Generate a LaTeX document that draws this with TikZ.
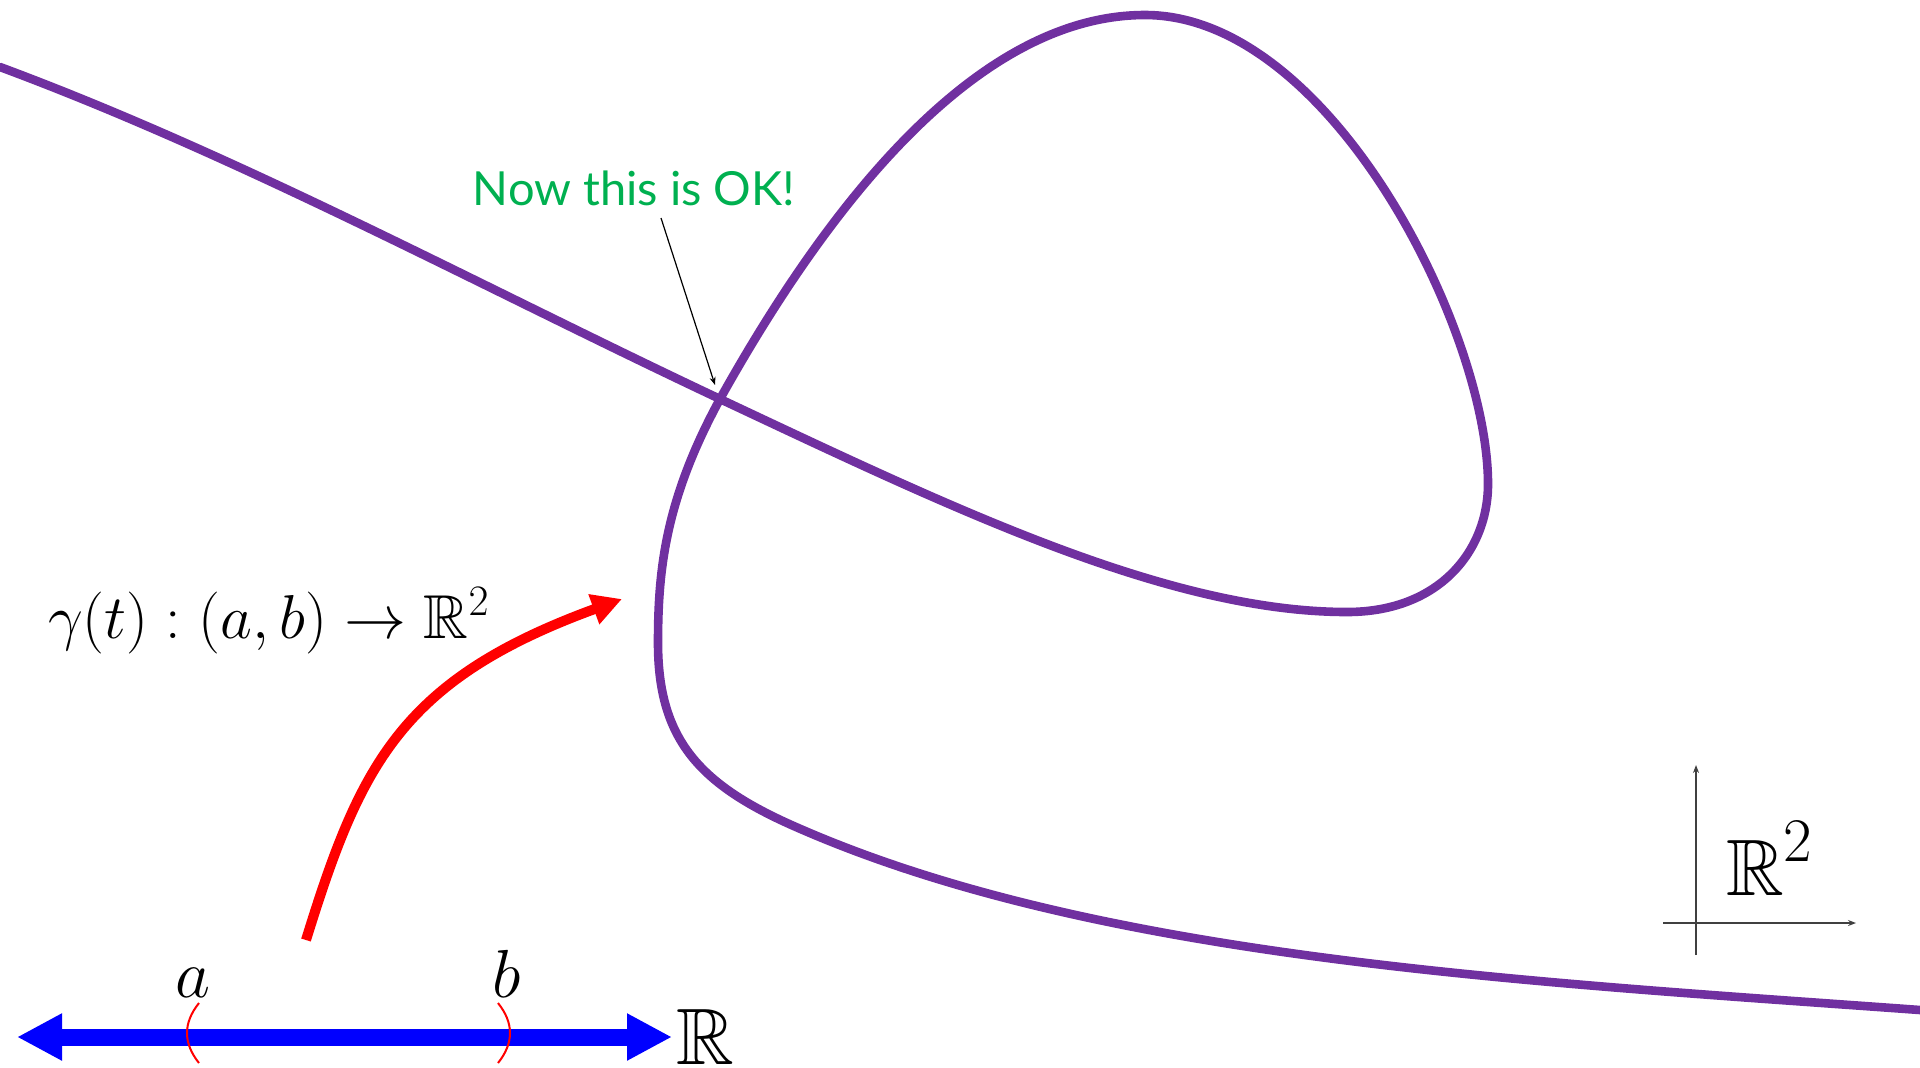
\RequirePackage{fix-cm}
\documentclass[tikz,border=0pt]{standalone}
\usepackage{amssymb}
\usepackage{fontspec}
\newfontfamily\gillfont{Lato}
\usetikzlibrary{arrows.meta}
\definecolor{curvepurple}{HTML}{7030A0}
\definecolor{okgreen}{HTML}{00B050}
\definecolor{axisgray}{HTML}{404040}
\tikzset{
  curveline/.style={curvepurple, line width=4.3pt, line cap=round, line join=round},
  mapline/.style={red, line width=5pt, -{Triangle[length=15pt,width=15pt]}},
  realline/.style={blue, line width=8.5pt, {Triangle[length=22.5pt,width=22pt]}-{Triangle[length=22.5pt,width=22pt]}},
  paren/.style={red, line width=1pt},
  axisline/.style={axisgray, line width=0.8pt, -{Stealth[length=4pt,width=3pt]}},
  pointer/.style={black, line width=0.6pt, -{Stealth[length=4pt,width=3pt]}},
  mathlabel/.style={inner sep=0pt, outer sep=0pt}
}
\begin{document}
\begin{tikzpicture}[x=0.5pt,y=-0.5pt]
\useasboundingbox (0,0) rectangle (1920,1067);

% the purple curve
\coordinate (c0) at (0,67);
\coordinate (cross) at (720,399);
\coordinate (cbot) at (1347,612);
\coordinate (cright) at (1488,484);
\coordinate (ctop) at (1145,15);
\coordinate (cleft) at (658,643);
\coordinate (clow) at (796,827);
\coordinate (cend) at (1920,1010);
\draw[curveline]
  (c0) .. controls (240,156) and (480,286) .. (cross)
       .. controls (950,507) and (1167,612) .. (cbot)
       .. controls (1440,612) and (1488,550) .. (cright)
       .. controls (1488,330) and (1330,15) .. (ctop)
       .. controls (995,15) and (850,166) .. (cross)
       .. controls (665,500) and (658,570) .. (cleft)
       .. controls (658,740) and (700,785) .. (clow)
       .. controls (1096,959) and (1520,981) .. (cend);

% label and pointer
\node[text=okgreen, font=\gillfont\fontsize{23.5}{28}\selectfont, inner sep=0pt] (ok) at (634,188) {Now this is OK!};
\coordinate (okfoot) at (661,218);
\coordinate (crosspt) at (715,385);
\draw[pointer] (okfoot) -- (crosspt);

% formula
\node[mathlabel, anchor=base west, font=\fontsize{31}{37}\selectfont] (gamma) at (48,638) {$\gamma(t) : (a,b) \to \mathbb{R}^2$};

% red map arrow
\coordinate (mapstart) at (306,940);
\coordinate (maptip) at (622,599);
\draw[mapline] (mapstart) .. controls (360,766) and (400,680) .. (maptip);

% real line
\coordinate (rleft) at (17,1037);
\coordinate (rright) at (672,1037);
\draw[realline] (rleft) -- (rright);
\node[mathlabel, anchor=base west, font=\fontsize{40}{48}\selectfont] (Rlab) at (676,1064) {$\mathbb{R}$};

% interval brackets
\coordinate (pa1) at (199,1003);
\coordinate (pa2) at (199,1063);
\coordinate (pb1) at (498,1003);
\coordinate (pb2) at (498,1063);
\draw[paren] (pa1) .. controls (183,1023) and (183,1043) .. (pa2);
\draw[paren] (pb1) .. controls (514,1023) and (514,1043) .. (pb2);
\node[mathlabel, anchor=base, font=\fontsize{34}{40}\selectfont] (alab) at (193,997) {$a$};
\node[mathlabel, anchor=base, font=\fontsize{34}{40}\selectfont] (blab) at (507,997) {$b$};

% R^2 axes
\coordinate (vbot) at (1696,955);
\coordinate (vtop) at (1696,765);
\coordinate (hleft) at (1663,923);
\coordinate (hright) at (1856,923);
\draw[axisline] (vbot) -- (vtop);
\draw[axisline] (hleft) -- (hright);
\node[mathlabel, anchor=base west, font=\fontsize{40}{48}\selectfont] (R2lab) at (1726,895) {$\mathbb{R}^{\raisebox{2pt}{\fontsize{31}{37}\selectfont$2$}}$};
\end{tikzpicture}
\end{document}
